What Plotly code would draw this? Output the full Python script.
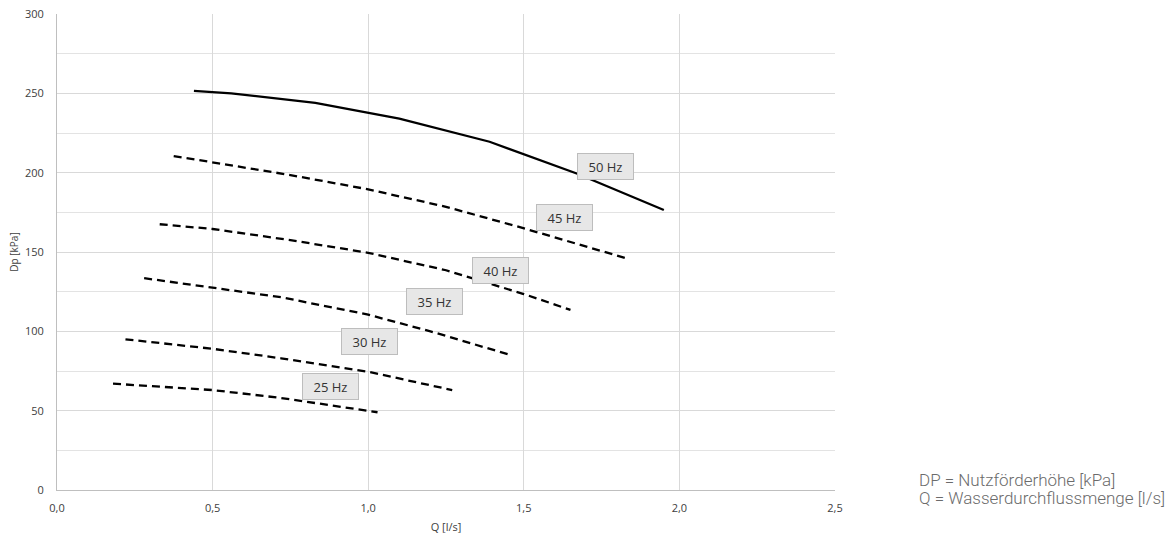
import plotly.graph_objects as go

q50 = [0.44, 0.56, 0.83, 1.10, 1.39, 1.67, 1.95]
dp50 = [251.5, 250, 244, 234, 219.5, 199.5, 176.5]
q45 = [0.375, 0.5, 0.75, 1.0, 1.25, 1.49, 1.83]
dp45 = [210.5, 206.5, 198.5, 189.5, 178.5, 165.5, 146]
q40 = [0.33, 0.5, 0.75, 1.0, 1.25, 1.5, 1.65]
dp40 = [167.5, 164.5, 157.5, 149.5, 138.5, 123.5, 113.5]
q35 = [0.28, 0.5, 0.72, 1.0, 1.2, 1.45]
dp35 = [133.5, 127.5, 121.5, 110.5, 100, 85.5]
q30 = [0.22, 0.5, 0.72, 1.0, 1.27]
dp30 = [95, 89, 83, 74.5, 63]
q25 = [0.18, 0.5, 0.72, 1.03]
dp25 = [67, 63, 58, 49]

series = [
    ("50 Hz", q50, dp50, "solid"),
    ("45 Hz", q45, dp45, "8px,5px"),
    ("40 Hz", q40, dp40, "8px,5px"),
    ("35 Hz", q35, dp35, "8px,5px"),
    ("30 Hz", q30, dp30, "8px,5px"),
    ("25 Hz", q25, dp25, "8px,5px"),
]
label_text = ["50 Hz", "45 Hz", "40 Hz", "35 Hz", "30 Hz", "25 Hz"]
label_q = [1.762, 1.630, 1.424, 1.214, 1.004, 0.879]
label_dp = [203.7, 172, 138.6, 118.5, 93.8, 65.4]

fig = go.Figure()
for name, q, dp, dash in series:
    fig.add_trace(go.Scatter(x=q, y=dp, mode="lines", name=name,
                             line=dict(color="black", width=2.3, dash=dash),
                             showlegend=False))

for t, x, y in zip(label_text, label_q, label_dp):
    fig.add_annotation(x=x, y=y, xref="x", yref="y", text=t, showarrow=False,
                       font=dict(family="Open Sans", size=13, color="#333333"),
                       bgcolor="#e7e7e7", bordercolor="#bdbdbd", borderwidth=1,
                       borderpad=0, width=55, height=25)

fig.add_annotation(xref="paper", yref="paper", x=1.106, y=0.02, xanchor="left", yanchor="middle",
                   text="DP = Nutzförderhöhe [kPa]", showarrow=False, align="left",
                   font=dict(family="Roboto", size=17, weight=300, color="#6b6b6b"))
fig.add_annotation(xref="paper", yref="paper", x=1.106, y=-0.017, xanchor="left", yanchor="middle",
                   text="Q = Wasserdurchflussmenge [l/s]", showarrow=False, align="left",
                   font=dict(family="Roboto", size=17, weight=300, color="#6b6b6b"))

fig.update_layout(
    width=1170, height=537,
    margin=dict(l=57, r=335, t=14, b=47, autoexpand=False),
    plot_bgcolor="white", paper_bgcolor="white",
    separators=",.",
    font=dict(family="Open Sans", size=10, color="#595959"),
)
fig.update_xaxes(range=[0, 2.5], dtick=0.5, tickformat=".1f", automargin=False,
                 showgrid=True, gridcolor="#d9d9d9", gridwidth=1,
                 showline=True, linecolor="#bfbfbf", linewidth=1,
                 zeroline=False, ticks="", ticklen=0, ticklabelstandoff=8,
                 title=dict(text="Q [l/s]", font=dict(size=11, color="#404040"), standoff=9),
                 tickfont=dict(size=11, color="#404040"))
fig.update_yaxes(range=[0, 300], dtick=50, automargin=False,
                 showgrid=True, gridcolor="#d9d9d9", gridwidth=1,
                 minor=dict(dtick=25, showgrid=True, gridcolor="#e3e3e3"),
                 showline=True, linecolor="#bfbfbf", linewidth=1,
                 zeroline=False, ticks="", ticklabelstandoff=10,
                 title=dict(text="Dp [kPa]", font=dict(size=10, color="#404040"), standoff=4),
                 tickfont=dict(size=11, color="#404040"))

fig.write_html("out.html")
